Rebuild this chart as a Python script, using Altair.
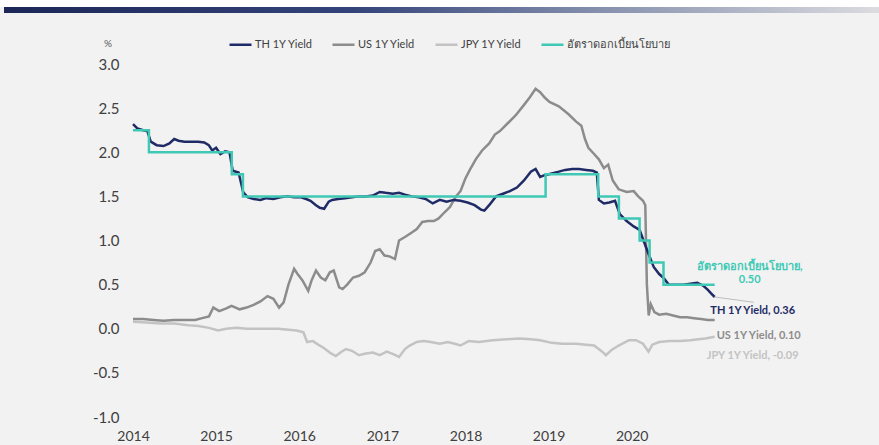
import altair as alt
import pandas as pd

# ---- series values (percent) ----
th_dates = [
    "2014-01-01", "2014-01-20", "2014-02-15", "2014-03-05", "2014-03-20", "2014-04-15", "2014-05-15",
    "2014-06-10", "2014-07-01", "2014-07-20", "2014-08-15", "2014-09-15", "2014-10-15", "2014-11-10",
    "2014-11-30", "2014-12-15", "2015-01-01", "2015-01-20", "2015-02-10", "2015-03-01", "2015-03-15",
    "2015-04-10", "2015-04-30", "2015-05-20", "2015-06-15", "2015-07-15", "2015-08-10", "2015-09-10",
    "2015-10-10", "2015-11-10", "2015-12-10", "2016-01-10", "2016-02-01", "2016-02-20", "2016-03-15",
    "2016-04-01", "2016-04-20", "2016-05-10", "2016-05-25", "2016-06-20", "2016-07-20", "2016-08-20",
    "2016-09-20", "2016-10-20", "2016-11-20", "2016-12-20", "2017-01-15", "2017-02-15", "2017-03-15",
    "2017-04-10", "2017-05-10", "2017-06-10", "2017-07-10", "2017-08-10", "2017-09-10", "2017-10-10",
    "2017-11-10", "2017-12-10", "2018-01-10", "2018-02-10", "2018-03-10", "2018-03-25", "2018-04-15",
    "2018-05-15", "2018-06-15", "2018-07-15", "2018-08-15", "2018-09-15", "2018-10-15", "2018-11-05",
    "2018-11-25", "2018-12-15", "2019-01-15", "2019-02-15", "2019-03-15", "2019-04-15", "2019-05-15",
    "2019-06-15", "2019-07-15", "2019-08-01", "2019-08-10", "2019-09-01", "2019-09-25", "2019-10-20",
    "2019-11-10", "2019-12-10", "2020-01-10", "2020-02-05", "2020-02-25", "2020-03-18", "2020-04-07",
    "2020-05-01", "2020-05-22", "2020-06-12", "2020-07-15", "2020-08-15", "2020-09-15", "2020-10-15",
    "2020-11-10", "2020-12-01", "2020-12-15", "2020-12-31",
]
th_values = [
    2.32, 2.27, 2.25, 2.24, 2.12, 2.08, 2.07,
    2.10, 2.15, 2.13, 2.12, 2.12, 2.12, 2.11,
    2.08, 2.02, 2.05, 1.98, 2.01, 2.00, 1.79,
    1.77, 1.55, 1.49, 1.47, 1.46, 1.48, 1.47,
    1.49, 1.50, 1.49, 1.49, 1.47, 1.45, 1.40,
    1.37, 1.36, 1.44, 1.46, 1.47, 1.48, 1.49,
    1.50, 1.50, 1.51, 1.55, 1.54, 1.53, 1.54,
    1.52, 1.50, 1.49, 1.47, 1.42, 1.46, 1.44,
    1.46, 1.45, 1.43, 1.40, 1.35, 1.34, 1.40,
    1.50, 1.53, 1.56, 1.60, 1.68, 1.78, 1.81,
    1.72, 1.74, 1.76, 1.78, 1.80, 1.81, 1.81,
    1.80, 1.79, 1.77, 1.46, 1.42, 1.43, 1.45,
    1.30, 1.22, 1.16, 1.12, 0.98, 0.83, 0.70,
    0.62, 0.57, 0.50, 0.50, 0.50, 0.51, 0.52,
    0.49, 0.44, 0.40, 0.36,
]

us_dates = [
    "2014-01-01", "2014-02-15", "2014-04-01", "2014-05-15", "2014-07-01", "2014-08-15", "2014-10-01",
    "2014-11-01", "2014-12-01", "2014-12-20", "2015-01-15", "2015-02-15", "2015-03-10", "2015-04-15",
    "2015-05-15", "2015-06-15", "2015-07-15", "2015-08-15", "2015-09-10", "2015-10-05", "2015-10-25",
    "2015-11-15", "2015-12-10", "2015-12-25", "2016-01-15", "2016-02-10", "2016-02-25", "2016-03-15",
    "2016-04-05", "2016-04-25", "2016-05-15", "2016-06-01", "2016-06-25", "2016-07-10", "2016-07-30",
    "2016-08-25", "2016-09-20", "2016-10-15", "2016-11-10", "2016-11-30", "2016-12-20", "2017-01-10",
    "2017-02-01", "2017-02-25", "2017-03-15", "2017-04-10", "2017-05-10", "2017-06-01", "2017-06-25",
    "2017-07-20", "2017-08-15", "2017-09-05", "2017-10-01", "2017-10-25", "2017-11-20", "2017-12-10",
    "2017-12-31", "2018-01-20", "2018-02-15", "2018-03-15", "2018-04-15", "2018-05-10", "2018-06-01",
    "2018-07-10", "2018-08-10", "2018-09-10", "2018-10-10", "2018-11-05", "2018-11-25", "2018-12-15",
    "2019-01-05", "2019-02-15", "2019-03-30", "2019-05-01", "2019-05-25", "2019-06-10", "2019-06-25",
    "2019-07-20", "2019-08-10", "2019-09-01", "2019-09-20", "2019-10-10", "2019-11-05", "2019-12-10",
    "2020-01-10", "2020-01-30", "2020-02-20", "2020-03-01", "2020-03-08", "2020-03-16", "2020-03-25",
    "2020-04-10", "2020-05-01", "2020-06-01", "2020-07-01", "2020-08-01", "2020-09-01", "2020-10-01",
    "2020-11-01", "2020-12-01", "2020-12-31",
]
us_values = [
    0.11, 0.11, 0.10, 0.09, 0.10, 0.10, 0.10,
    0.12, 0.14, 0.24, 0.20, 0.23, 0.26, 0.22,
    0.24, 0.27, 0.31, 0.37, 0.34, 0.24, 0.30,
    0.50, 0.68, 0.62, 0.55, 0.43, 0.55, 0.66,
    0.58, 0.55, 0.64, 0.66, 0.47, 0.45, 0.50,
    0.58, 0.60, 0.64, 0.75, 0.88, 0.90, 0.83,
    0.82, 0.79, 1.00, 1.04, 1.09, 1.13, 1.21,
    1.22, 1.22, 1.25, 1.32, 1.38, 1.50, 1.56,
    1.70, 1.80, 1.92, 2.02, 2.10, 2.20, 2.24,
    2.34, 2.42, 2.52, 2.62, 2.72, 2.68, 2.62,
    2.57, 2.52, 2.43, 2.35, 2.30, 2.15, 2.05,
    1.98, 1.92, 1.82, 1.86, 1.68, 1.58, 1.55,
    1.56, 1.50, 1.45, 1.40, 0.50, 0.15, 0.28,
    0.19, 0.16, 0.17, 0.15, 0.13, 0.13, 0.12,
    0.11, 0.10, 0.10,
]

jpy_dates = [
    "2014-01-01", "2014-03-01", "2014-05-01", "2014-07-01", "2014-09-01", "2014-10-15", "2014-12-01",
    "2015-01-10", "2015-02-15", "2015-04-01", "2015-05-15", "2015-07-01", "2015-08-15", "2015-10-01",
    "2015-11-15", "2015-12-20", "2016-01-20", "2016-02-05", "2016-03-01", "2016-03-25", "2016-04-20",
    "2016-05-20", "2016-06-10", "2016-07-05", "2016-07-25", "2016-08-20", "2016-09-20", "2016-10-20",
    "2016-11-20", "2016-12-20", "2017-01-20", "2017-02-20", "2017-03-15", "2017-04-10", "2017-05-01",
    "2017-06-01", "2017-07-01", "2017-08-01", "2017-09-10", "2017-10-15", "2017-11-15", "2017-12-10",
    "2018-01-15", "2018-03-01", "2018-05-01", "2018-07-01", "2018-08-25", "2018-10-15", "2018-11-25",
    "2019-01-15", "2019-03-01", "2019-05-01", "2019-06-15", "2019-07-20", "2019-08-25", "2019-09-10",
    "2019-10-05", "2019-11-05", "2019-12-20", "2020-01-20", "2020-02-20", "2020-03-15", "2020-04-01",
    "2020-05-01", "2020-06-15", "2020-08-01", "2020-09-15", "2020-10-20", "2020-11-20", "2020-12-31",
]
jpy_values = [
    0.08, 0.07, 0.06, 0.06, 0.04, 0.03, 0.01,
    -0.02, 0.00, 0.01, 0.00, 0.00, 0.00, 0.00,
    -0.01, -0.02, -0.04, -0.15, -0.14, -0.18, -0.22,
    -0.28, -0.31, -0.26, -0.23, -0.25, -0.30, -0.28,
    -0.27, -0.30, -0.26, -0.29, -0.32, -0.23, -0.19,
    -0.15, -0.14, -0.15, -0.17, -0.15, -0.17, -0.19,
    -0.14, -0.15, -0.13, -0.12, -0.11, -0.12, -0.13,
    -0.16, -0.17, -0.17, -0.18, -0.19, -0.26, -0.30,
    -0.24, -0.19, -0.13, -0.13, -0.17, -0.26, -0.18,
    -0.15, -0.14, -0.14, -0.13, -0.12, -0.11, -0.09,
]

# Policy rate decision dates and the rate that applies from each date
policy_dates = [
    "2014-01-01", "2014-03-12", "2015-03-11", "2015-04-29", "2018-12-19", "2019-08-07",
    "2019-11-06", "2020-02-05", "2020-03-20", "2020-05-20", "2020-12-31",
]
policy_values = [2.25, 2.00, 1.75, 1.50, 1.75, 1.50, 1.25, 1.00, 0.75, 0.50, 0.50]

series_names = ["TH 1Y Yield", "US 1Y Yield", "JPY 1Y Yield", "อัตราดอกเบี้ยนโยบาย"]
series_colors = ["#1f2b66", "#8c8c8c", "#c3c3c3", "#3fc9b5"]
year_ticks = [2014, 2015, 2016, 2017, 2018, 2019, 2020]
y_ticks = [-1.0, -0.5, 0.0, 0.5, 1.0, 1.5, 2.0, 2.5, 3.0]

FONT = "Lato"
THAI_FONT = "Lato, Noto Sans, DejaVu Sans, sans-serif"


def frame(dates, values, name):
    return pd.DataFrame({"date": pd.to_datetime(dates), "value": values, "series": name})


th = frame(th_dates, th_values, series_names[0])
us = frame(us_dates, us_values, series_names[1])
jpy = frame(jpy_dates, jpy_values, series_names[2])
policy = frame(policy_dates, policy_values, series_names[3])

x_enc = alt.X(
    "date:T",
    scale=alt.Scale(domain=[alt.DateTime(year=2014, month=1, date=1),
                            alt.DateTime(year=2022, month=1, date=1)]),
    axis=alt.Axis(
        values=[alt.DateTime(year=y, month=1, date=1) for y in year_ticks],
        format="%Y", title=None, grid=False, domain=False, ticks=False,
        labelFont=FONT, labelFontSize=14, labelColor="#404040", labelPadding=12,
        labelFlush=False,
    ),
)
y_enc = alt.Y(
    "value:Q",
    scale=alt.Scale(domain=[-1.0, 3.0], nice=False, zero=False),
    axis=alt.Axis(
        values=y_ticks, title=None, grid=False, domain=False, ticks=False,
        labelExpr="replace(format(datum.value, '.1f'), '\u2212', '-')",
        labelFont=FONT, labelFontSize=15, labelColor="#404040", labelPadding=14,
    ),
)
color_enc = alt.Color(
    "series:N",
    scale=alt.Scale(domain=series_names, range=series_colors),
    legend=alt.Legend(
        title=None, orient="none", legendX=95, legendY=-32, direction="horizontal",
        symbolType="stroke", symbolSize=484, symbolStrokeWidth=2.5,
        labelFont=THAI_FONT, labelFontSize=11, labelColor="#404040",
        labelOffset=2, columnPadding=14, padding=0,
    ),
)


def line_layer(df, **kw):
    return alt.Chart(df).mark_line(strokeWidth=2.5, **kw).encode(x=x_enc, y=y_enc, color=color_enc)


jpy_line = line_layer(jpy)
us_line = line_layer(us)
th_line = line_layer(th)
policy_line = line_layer(policy, interpolate="step-after")

# End-of-series labels, built from each series' last value
last = lambda df: df.iloc[[-1]].copy()
th_last, us_last, jpy_last, pol_last = last(th), last(us), last(jpy), last(policy)
for d in (th_last, us_last, jpy_last):
    d["label"] = d["series"] + ", " + d["value"].map(lambda v: f"{v:.2f}")
pol_last["label"] = pol_last["series"] + ",\n" + pol_last["value"].map(lambda v: f"{v:.2f}")


def end_label(df, color, align, dx, dy, baseline="middle", font=FONT):
    return alt.Chart(df).mark_text(
        font=font, fontSize=11, fontWeight="bold", color=color, align=align,
        baseline=baseline, dx=dx, dy=dy, lineBreak="\n", lineHeight=13,
    ).encode(x="date:T", y="value:Q", text="label:N")


th_text = end_label(th_last, "#1f2b66", "center", 38, 14)
us_text = end_label(us_last, "#8c8c8c", "left", 2, 16)
jpy_text = end_label(jpy_last, "#c3c3c3", "left", -8, 19)
pol_text = end_label(pol_last, "#3fc9b5", "center", 35, -18, baseline="middle", font=THAI_FONT)

# thin leader from the TH end point toward its label
leader_df = th_last.assign(date2=pd.Timestamp("2021-06-20"), value2=0.30)
leader = alt.Chart(leader_df).mark_rule(color="#bdbdbd", strokeWidth=1).encode(
    x=alt.X("date:T"), y=alt.Y("value:Q"), x2="date2:T", y2="value2:Q"
)

one = pd.DataFrame({"k": [0]})
white_strip = alt.Chart(one).mark_rect(color="white").encode(
    x=alt.value(-133), x2=alt.value(746), y=alt.value(-64), y2=alt.value(-57)
)
top_band = alt.Chart(one).mark_rect(
    color=alt.LinearGradient(
        gradient="linear", x1=0, x2=1, y1=0, y2=0,
        stops=[
            alt.GradientStop(offset=0.0, color="#1c2758"),
            alt.GradientStop(offset=0.40, color="#34447a"),
            alt.GradientStop(offset=0.68, color="#8590ad"),
            alt.GradientStop(offset=1.0, color="#dcdce0"),
        ],
    )
).encode(x=alt.value(-129), x2=alt.value(746), y=alt.value(-57), y2=alt.value(-51))

unit = alt.Chart(one).mark_text(
    text="%", font=FONT, fontSize=10, color="#595959", align="center", baseline="middle"
).encode(x=alt.value(-25), y=alt.value(-20))

chart = alt.layer(
    white_strip, top_band, unit,
    jpy_line, us_line, th_line, policy_line,
    leader, th_text, us_text, jpy_text, pol_text,
).properties(
    width=665, height=353,
    autosize=alt.AutoSizeParams(type="none"),
    padding={"left": 133, "top": 64, "right": 81, "bottom": 28},
    background="#f2f2f2",
).configure_view(stroke=None)

chart.save("out.html", embed_options={"renderer": "svg", "actions": False})
